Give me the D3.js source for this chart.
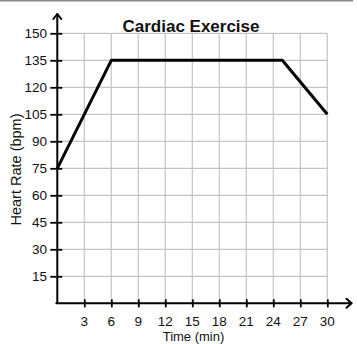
<!DOCTYPE html>
<html>
<head>
<meta charset="utf-8">
<script src="https://cdn.jsdelivr.net/npm/d3@7"></script>
<style>
  html, body { margin: 0; padding: 0; background: #fff; }
  svg { display: block; }
  text { font-family: "Liberation Sans", Arial, sans-serif; fill: #111; }
</style>
</head>
<body>
<svg id="chart" width="357" height="344"></svg>
<script>
// Heart rate over a 30-minute cardio session
const timeMin = [0, 6, 25, 30];
const heartRate = [75, 135, 135, 105];
const xTicks = [3, 6, 9, 12, 15, 18, 21, 24, 27, 30];
const yTicks = [15, 30, 45, 60, 75, 90, 105, 120, 135, 150];
const titleText = "Cardiac Exercise";
const xLabel = "Time (min)";
const yLabel = "Heart Rate (bpm)";

const svg = d3.select("#chart");

const x = d3.scaleLinear().domain([0, 30]).range([57.3, 327.3]);
const y = d3.scaleLinear().domain([0, 150]).range([303.3, 33.3]);

// thin rule across the top of the frame
svg.append("line")
  .attr("x1", 0).attr("x2", 353).attr("y1", 0.6).attr("y2", 0.6)
  .attr("stroke", "#8a8a8a").attr("stroke-width", 1.6);

// grid
const grid = svg.append("g").attr("stroke", "#c4c4c4").attr("stroke-width", 1.2);
grid.selectAll(".gx").data(xTicks).join("line")
  .attr("x1", d => x(d)).attr("x2", d => x(d))
  .attr("y1", y(0)).attr("y2", y(150));
grid.selectAll(".gy").data(yTicks).join("line")
  .attr("x1", x(0)).attr("x2", x(30))
  .attr("y1", d => y(d)).attr("y2", d => y(d));

// axes with ticks that cross the axis line
const xAxis = svg.append("g")
  .attr("transform", `translate(0,${y(0)})`)
  .call(d3.axisBottom(x).tickValues(xTicks).tickSizeInner(4).tickSizeOuter(0).tickFormat(""));
xAxis.selectAll(".tick line").attr("y1", -4).attr("y2", 4)
  .attr("stroke", "#000").attr("stroke-width", 1.8);
xAxis.select(".domain").remove();

const yAxis = svg.append("g")
  .attr("transform", `translate(${x(0)},0)`)
  .call(d3.axisLeft(y).tickValues(yTicks).tickSizeInner(6).tickSizeOuter(0).tickFormat(""));
yAxis.selectAll(".tick line").attr("x1", -7).attr("x2", 5)
  .attr("stroke", "#000").attr("stroke-width", 1.8);
yAxis.select(".domain").remove();

// axis lines with open arrowheads
const ax = svg.append("g").attr("stroke", "#000").attr("stroke-width", 2).attr("fill", "none")
  .attr("stroke-linecap", "round").attr("stroke-linejoin", "round");
ax.append("line").attr("x1", x(0)).attr("x2", x(0)).attr("y1", y(0)).attr("y2", 14);
ax.append("path").attr("d", `M${x(0) - 4},19 L${x(0)},14 L${x(0) + 4},19`);
ax.append("line").attr("x1", x(0) - 1).attr("x2", 351.5).attr("y1", y(0)).attr("y2", y(0));
ax.append("path").attr("d", `M346.5,${y(0) - 4.5} L351.5,${y(0)} L346.5,${y(0) + 4.5}`);

// tick labels
svg.append("g").selectAll("text").data(yTicks).join("text")
  .attr("x", 47).attr("y", d => y(d) + 4.8)
  .attr("text-anchor", "end").attr("font-size", 13.5)
  .text(d => d);
svg.append("g").selectAll("text").data(xTicks).join("text")
  .attr("x", d => x(d)).attr("y", 325.5)
  .attr("text-anchor", "middle").attr("font-size", 13.5)
  .text(d => d);

// heart-rate line
const line = d3.line().x(d => x(d[0])).y(d => y(d[1]));
svg.append("path")
  .datum(timeMin.map((t, i) => [t, heartRate[i]]))
  .attr("d", line)
  .attr("fill", "none").attr("stroke", "#000").attr("stroke-width", 3)
  .attr("stroke-linejoin", "round");

// titles
svg.append("text")
  .attr("x", 191).attr("y", 32)
  .attr("text-anchor", "middle").attr("font-size", 17).attr("font-weight", "bold")
  .text(titleText);
svg.append("text")
  .attr("x", 193.5).attr("y", 341)
  .attr("text-anchor", "middle").attr("font-size", 13)
  .text(xLabel);
svg.append("text")
  .attr("transform", "translate(21,169.5) rotate(-90)")
  .attr("text-anchor", "middle").attr("font-size", 14.5)
  .text(yLabel);
</script>
</body>
</html>
